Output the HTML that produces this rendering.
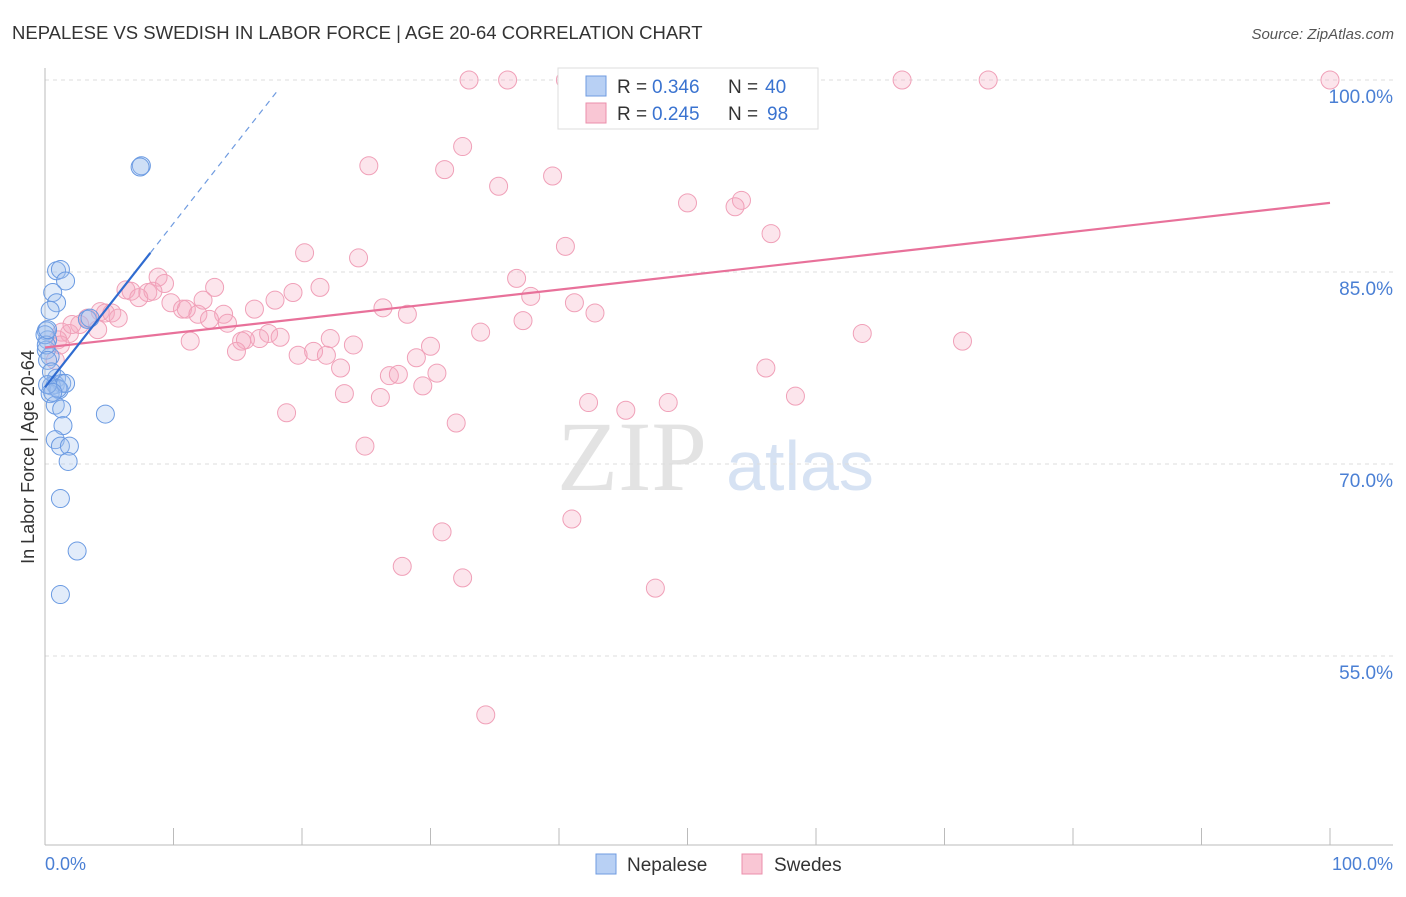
<!DOCTYPE html>
<html><head><meta charset="utf-8"><style>
body{margin:0;background:#fff;font-family:"Liberation Sans",sans-serif;}
</style></head><body>
<svg id="chart" width="1406" height="892" xmlns="http://www.w3.org/2000/svg">
<text x="12" y="39" font-size="18.5" fill="#333">NEPALESE VS SWEDISH IN LABOR FORCE | AGE 20-64 CORRELATION CHART</text>
<text x="1394" y="39" font-size="15" fill="#555" font-style="italic" text-anchor="end">Source: ZipAtlas.com</text>
<text x="632" y="490" font-size="100" fill="#e3e3e3" font-family="Liberation Serif,serif" text-anchor="middle">ZIP</text>
<text x="800" y="490" font-size="70" fill="#d6e2f3" text-anchor="middle">atlas</text>
<g id="grid"></g><g id="axes"></g><g id="pts"></g><g id="lines"></g>
<text transform="translate(34,457) rotate(-90)" font-size="18" fill="#333" text-anchor="middle">In Labor Force | Age 20-64</text>
<text x="45" y="870" font-size="18" fill="#4a7fd4">0.0%</text>
<text x="1393" y="870" font-size="18" fill="#4a7fd4" text-anchor="end">100.0%</text>
<g>
<rect x="558" y="68" width="260" height="61" fill="#fff" stroke="#ddd"/>
<rect x="586" y="76" width="20" height="20" fill="#b8d0f4" stroke="#6f9be0"/>
<rect x="586" y="103" width="20" height="20" fill="#f9c6d4" stroke="#eb8fab"/>
<text x="617" y="93" font-size="19" fill="#333">R =</text>
<text x="652" y="93" font-size="19" fill="#3a73d0">0.346</text>
<text x="728" y="93" font-size="19" fill="#333">N =</text>
<text x="765" y="93" font-size="19" fill="#3a73d0">40</text>
<text x="617" y="120" font-size="19" fill="#333">R =</text>
<text x="652" y="120" font-size="19" fill="#3a73d0">0.245</text>
<text x="728" y="120" font-size="19" fill="#333">N =</text>
<text x="767" y="120" font-size="19" fill="#3a73d0">98</text>
</g>
<g>
<rect x="596" y="854" width="20" height="20" fill="#b8d0f4" stroke="#6f9be0"/>
<text x="627" y="871" font-size="19" fill="#333">Nepalese</text>
<rect x="742" y="854" width="20" height="20" fill="#f9c6d4" stroke="#eb8fab"/>
<text x="774" y="871" font-size="19" fill="#333">Swedes</text>
</g>
</svg>
<script>
const yTicks=[100,85,70,55];
const yTickLabels=["100.0%","85.0%","70.0%","55.0%"];
const xTicks=[0,10,20,30,40,50,60,70,80,90,100];
const blueX=[7.5,7.4,0.9,1.2,1.6,0.6,0.9,0.4,0.1,0.2,0.1,0.4,0.9,0.8,1.3,0.5,1.1,0.4,0.8,1.3,1.4,0.8,1.2,1.9,1.8,1.2,2.5,1.2,4.7,3.3,0,0.1,0.2,0.5,1.0,1.6,0.2,0.6,0.2,3.5];
const blueY=[93.3,93.2,85.1,85.2,84.3,83.4,82.6,82.0,80.4,79.7,78.9,78.4,76.7,76.2,76.3,76.1,75.8,75.5,74.6,74.3,73.0,71.9,71.4,71.4,70.2,67.3,63.2,59.8,73.9,81.3,80.1,79.3,78.1,77.2,75.9,76.3,76.2,75.6,80.5,81.4];
const pinkX=[33.0,36.0,40.5,47.9,66.7,73.4,100,32.5,25.2,31.1,39.5,35.3,50.0,54.2,53.7,56.5,40.5,20.2,24.4,8.8,36.7,9.3,6.3,6.7,8.0,8.4,7.3,13.2,19.3,21.4,17.9,12.3,37.8,41.2,9.8,10.7,11.0,16.3,26.3,28.2,42.8,4.3,4.7,5.2,5.7,3.3,2.7,13.9,11.9,12.8,14.2,37.2,33.9,17.4,18.3,22.2,16.7,15.6,15.3,11.3,63.6,71.4,24.0,30.0,4.1,1.9,1.3,1.0,1.2,14.9,19.7,20.9,21.9,28.9,23.0,56.1,30.5,26.8,27.5,29.4,23.3,26.1,42.3,45.2,48.5,58.4,18.8,32.0,24.9,41.0,30.9,27.8,32.5,47.5,34.3,2.1,0.8];
const pinkY=[100,100,100,100,100,100,100,94.8,93.3,93.0,92.5,91.7,90.4,90.6,90.1,88.0,87.0,86.5,86.1,84.6,84.5,84.1,83.6,83.5,83.4,83.5,83.0,83.8,83.4,83.8,82.8,82.8,83.1,82.6,82.6,82.1,82.1,82.1,82.2,81.7,81.8,81.9,81.8,81.8,81.4,81.4,80.9,81.7,81.7,81.3,81.0,81.2,80.3,80.2,79.9,79.8,79.8,79.7,79.6,79.6,80.2,79.6,79.3,79.2,80.5,80.2,80.3,79.7,79.3,78.8,78.5,78.8,78.5,78.3,77.5,77.5,77.1,76.9,77.0,76.1,75.5,75.2,74.8,74.2,74.8,75.3,74.0,73.2,71.4,65.7,64.7,62.0,61.1,60.3,50.4,80.9,78.1];
const pinkTrend=[79.1,90.4];
const blueTrend=[76.0,1.28];
const X=v=>45+v*12.85, Y=v=>80+(100-v)*12.8;
const NS="http://www.w3.org/2000/svg";
function mk(t,a,p){const e=document.createElementNS(NS,t);for(const k in a)e.setAttribute(k,a[k]);document.getElementById(p).appendChild(e);return e;}
yTicks.forEach((t,i)=>{
 const l=mk('line',{x1:45,x2:1393,y1:Y(t),y2:Y(t),stroke:'#ddd','stroke-dasharray':'4,4'},'grid');
 
 
 const tx=mk('text',{x:1393,y:Y(t)+23,'font-size':19,fill:'#4a7fd4','text-anchor':'end'},'grid');
 tx.textContent=yTickLabels[i];
 
 
});
let a=mk('line',{x1:45,x2:45,y1:68,y2:845,stroke:'#bbb'},'axes');


a=mk('line',{x1:45,x2:1393,y1:845,y2:845,stroke:'#bbb'},'axes');


xTicks.forEach(t=>{
 const l=mk('line',{x1:X(t),x2:X(t),y1:828,y2:845,stroke:'#bbb'},'axes');
 
 
});
pinkX.forEach((x,i)=>{
 const c=mk('circle',{cx:X(x),cy:Y(pinkY[i]),r:9,fill:'rgba(244,170,192,0.3)',stroke:'#f0a0b8','stroke-width':1},'pts');
 
 
});
blueX.forEach((x,i)=>{
 const c=mk('circle',{cx:X(x),cy:Y(blueY[i]),r:9,fill:'rgba(160,192,240,0.3)',stroke:'#6a9ae2','stroke-width':1},'pts');
 
 
});
let t=mk('line',{x1:X(0),y1:Y(pinkTrend[0]),x2:X(100),y2:Y(pinkTrend[1]),stroke:'#e8719a','stroke-width':2.2},'lines');


t=mk('line',{x1:X(0),y1:Y(blueTrend[0]),x2:X(8.2),y2:Y(blueTrend[0]+8.2*blueTrend[1]),stroke:'#2f6bd0','stroke-width':2.2},'lines');


t=mk('line',{x1:X(8.2),y1:Y(blueTrend[0]+8.2*blueTrend[1]),x2:X(18.2),y2:Y(blueTrend[0]+18.2*blueTrend[1]),stroke:'#6f9be0','stroke-width':1.2,'stroke-dasharray':'6,5'},'lines');


</script>
</body></html>
